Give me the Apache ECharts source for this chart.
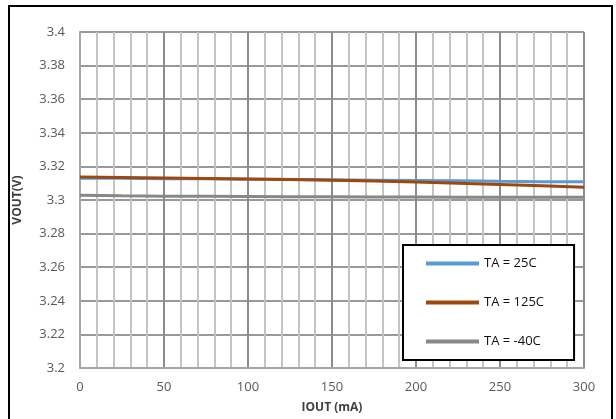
<!DOCTYPE html>
<html>
<head>
<meta charset="utf-8">
<script src="https://cdn.jsdelivr.net/npm/echarts@6/dist/echarts.min.js"></script>
<style>
  html, body { margin: 0; padding: 0; background: #fff; }
  #chart { width: 616px; height: 419px; }
</style>
</head>
<body>
<div id="chart"></div>
<script>
// Output current (mA) sample points
const iout = [0, 25, 50, 75, 100, 125, 150, 175, 200, 225, 250, 275, 300];
// Output voltage (V) per temperature
const vout25 = [3.3130, 3.3129, 3.3127, 3.3126, 3.3124, 3.3122, 3.3120, 3.3118, 3.3116, 3.3114, 3.3111, 3.3109, 3.3108];
const vout125 = [3.3137, 3.3134, 3.3131, 3.3128, 3.3125, 3.3122, 3.3118, 3.3113, 3.3107, 3.3100, 3.3093, 3.3085, 3.3076];
const voutM40 = [3.3028, 3.3025, 3.3023, 3.3022, 3.3021, 3.3020, 3.3019, 3.3018, 3.3018, 3.3017, 3.3017, 3.3016, 3.3016];
const seriesNames = ['TA = 25C', 'TA = 125C', 'TA = -40C'];
const seriesColors = ['#5B9BD5', '#9E480E', '#888888'];

const pair = (xs, ys) => xs.map((x, i) => [x, ys[i]]);
const font = 'Open Sans, Liberation Sans, sans-serif';

const chart = echarts.init(document.getElementById('chart'));
chart.setOption({
  animation: false,
  backgroundColor: '#fff',
  grid: { left: 80, right: 32, top: 32, bottom: 47 },
  graphic: [{
    type: 'rect',
    shape: { x: 9, y: 6, width: 603, height: 430 },
    style: { fill: 'none', stroke: '#000', lineWidth: 2 },
    silent: true, z: 100
  }],
  legend: {
    orient: 'vertical',
    left: 403, top: 245,
    padding: [12, 30, 12, 23],
    itemGap: 26,
    itemWidth: 53, itemHeight: 4,
    icon: 'rect',
    backgroundColor: '#fff',
    borderColor: '#000', borderWidth: 2,
    textStyle: { color: '#111', fontSize: 13, fontFamily: font },
    data: seriesNames
  },
  xAxis: {
    type: 'value', min: 0, max: 300, interval: 50,
    name: 'IOUT (mA)', nameLocation: 'middle', nameGap: 34,
    nameTextStyle: { fontWeight: 'bold', fontSize: 12, color: '#404040', fontFamily: font },
    axisLine: { show: true, lineStyle: { color: '#a6a6a6', width: 2 } },
    axisTick: { show: false },
    axisLabel: { color: '#595959', fontSize: 13, margin: 13, fontFamily: font },
    splitLine: { show: true, lineStyle: { color: '#8c8c8c', width: 2 } },
    minorTick: { show: false, splitNumber: 5 },
    minorSplitLine: { show: true, lineStyle: { color: '#c4c4c4', width: 2 } }
  },
  yAxis: {
    type: 'value', min: 3.2, max: 3.4, interval: 0.02,
    name: 'VOUT(V)', nameLocation: 'middle', nameGap: 56,
    nameTextStyle: { fontWeight: 'bold', fontSize: 12, color: '#404040', fontFamily: font },
    axisLine: { show: true, lineStyle: { color: '#a6a6a6', width: 2 } },
    axisTick: { show: false },
    axisLabel: {
      color: '#595959', fontSize: 13, margin: 15, fontFamily: font,
      formatter: v => String(parseFloat(v.toFixed(2)))
    },
    splitLine: { show: true, lineStyle: { color: '#999999', width: 2 } }
  },
  series: [
    { name: seriesNames[0], type: 'line', data: pair(iout, vout25), showSymbol: false,
      color: seriesColors[0], lineStyle: { width: 3 } },
    { name: seriesNames[1], type: 'line', data: pair(iout, vout125), showSymbol: false,
      color: seriesColors[1], lineStyle: { width: 3 } },
    { name: seriesNames[2], type: 'line', data: pair(iout, voutM40), showSymbol: false,
      color: seriesColors[2], lineStyle: { width: 3 } }
  ]
});
</script>
</body>
</html>
